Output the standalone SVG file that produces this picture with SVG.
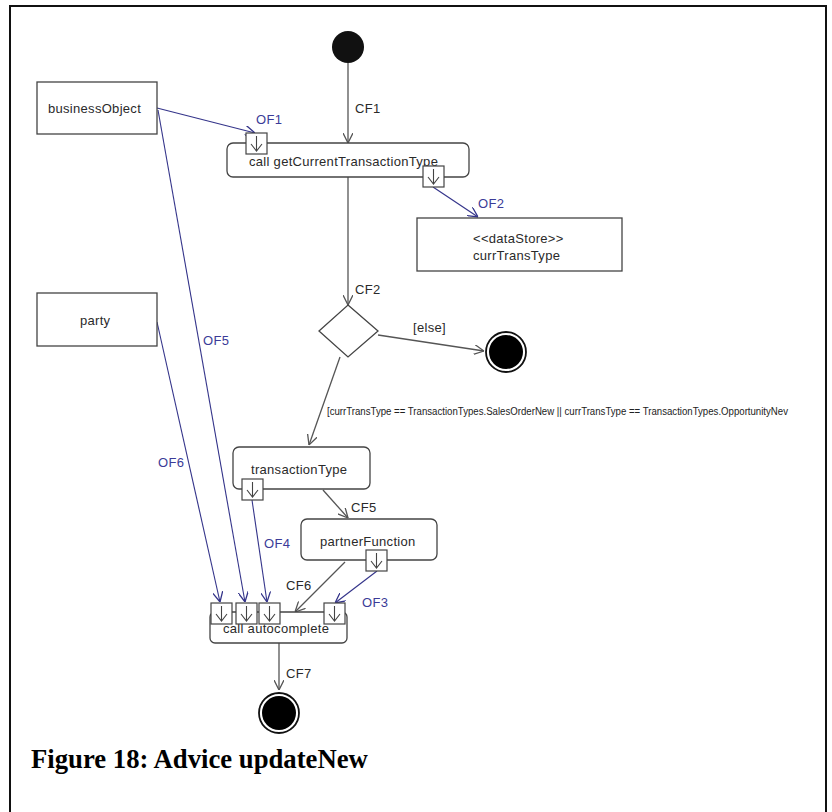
<svg xmlns="http://www.w3.org/2000/svg" width="832" height="812" viewBox="0 0 832 812">
  <defs>
    <style>
      .lbl { font-family: "Liberation Sans", Arial, sans-serif; font-size: 13px; letter-spacing: 0.3px; fill: #2a2a2a; }
      .of { fill: #3b3b98; }
      .guard { font-family: "Liberation Sans", Arial, sans-serif; font-size: 10px; fill: #222; }
      .box { fill: #fff; stroke: #444; stroke-width: 1.3; }
      .cf { stroke: #555; stroke-width: 1.3; fill: none; marker-end: url(#arrCF); }
      .obj { stroke: #34348a; stroke-width: 1.1; fill: none; marker-end: url(#arrOF); }
      .pin { fill: #fff; stroke: #444; stroke-width: 1.2; }
      .pinarrow { stroke: #444; stroke-width: 1.1; fill: none; }
      .caption { font-family: "Liberation Serif", "Times New Roman", serif; font-size: 26.7px; font-weight: bold; fill: #000; }
    </style>
    <marker id="arrCF" viewBox="0 0 10 10" refX="10" refY="5" markerWidth="10" markerHeight="10" markerUnits="userSpaceOnUse" orient="auto">
      <path d="M0,0 L10,5 L0,10" fill="none" stroke="#555" stroke-width="1.3"/>
    </marker>
    <marker id="arrOF" viewBox="0 0 10 10" refX="10" refY="5" markerWidth="10" markerHeight="10" markerUnits="userSpaceOnUse" orient="auto">
      <path d="M0,0 L10,5 L0,10" fill="none" stroke="#34348a" stroke-width="1.3"/>
    </marker>
    <!-- input/output pin: small square with a downward arrow -->
    <g id="pinShape">
      <rect class="pin" x="0" y="0" width="21" height="21"/>
      <path class="pinarrow" d="M10.5,3 V18 M5,11 L10.5,18 L16,11"/>
    </g>
  </defs>

  <rect width="832" height="812" fill="#fff"/>
  <!-- page frame -->
  <rect x="10" y="6" width="816" height="830" fill="none" stroke="#111" stroke-width="2"/>

  <!-- connectors -->
  <g id="connectors">
    <line class="cf" x1="348" y1="63" x2="348" y2="143"/>
    <line class="cf" x1="348" y1="177" x2="348" y2="305"/>
    <line class="cf" x1="378" y1="335" x2="484" y2="351"/>
    <line class="cf" x1="340" y1="357" x2="309" y2="445"/>
    <line class="cf" x1="323" y1="490" x2="348" y2="518"/>
    <line class="cf" x1="345" y1="562" x2="295" y2="612"/>
    <line class="cf" x1="279" y1="643" x2="279" y2="690"/>

    <line class="obj" x1="157" y1="108" x2="255" y2="133"/>
    <line class="obj" x1="433" y1="187" x2="478" y2="217"/>
    <line class="obj" x1="377" y1="571" x2="335" y2="603"/>
    <line class="obj" x1="252" y1="500" x2="267" y2="602"/>
    <line class="obj" x1="158" y1="110" x2="245" y2="602"/>
    <line class="obj" x1="157" y1="322" x2="220" y2="602"/>

    <text class="lbl" x="355" y="113">CF1</text>
    <text class="lbl" x="355" y="294">CF2</text>
    <text class="lbl" x="413" y="332">[else]</text>
    <text class="lbl" x="351" y="512">CF5</text>
    <text class="lbl" x="286" y="590">CF6</text>
    <text class="lbl" x="286" y="678">CF7</text>
    <text class="lbl of" x="256" y="124">OF1</text>
    <text class="lbl of" x="478" y="208">OF2</text>
    <text class="lbl of" x="362" y="607">OF3</text>
    <text class="lbl of" x="264" y="548">OF4</text>
    <text class="lbl of" x="203" y="345">OF5</text>
    <text class="lbl of" x="158" y="467">OF6</text>
    <text class="guard" x="327" y="415" textLength="461" lengthAdjust="spacingAndGlyphs">[currTransType == TransactionTypes.SalesOrderNew || currTransType == TransactionTypes.OpportunityNev</text>
  </g>

  <g id="start">
    <circle cx="348" cy="47" r="16" fill="#111"/>
  </g>

  <g id="businessObject">
    <rect class="box" x="37" y="82" width="120" height="52"/>
    <text class="lbl" x="48" y="113">businessObject</text>
  </g>

  <g id="party">
    <rect class="box" x="37" y="293" width="120" height="53"/>
    <text class="lbl" x="80" y="325">party</text>
  </g>

  <g id="getCurrentTransactionType">
    <rect class="box" x="227" y="143" width="242" height="34" rx="6"/>
    <text class="lbl" x="249" y="166">call getCurrentTransactionType</text>
    <use href="#pinShape" x="246" y="133"/>
    <use href="#pinShape" x="423" y="166"/>
  </g>

  <g id="dataStore">
    <rect class="box" x="417" y="218" width="205" height="53"/>
    <text class="lbl" x="473" y="243">&lt;&lt;dataStore&gt;&gt;</text>
    <text class="lbl" x="473" y="260">currTransType</text>
  </g>

  <g id="decision">
    <polygon class="box" points="348,305 378,331 348,357 319,331"/>
  </g>

  <g id="finalElse">
    <circle cx="506" cy="352" r="20" fill="#fff" stroke="#111" stroke-width="1.8"/>
    <circle cx="506" cy="352" r="17" fill="#000"/>
  </g>

  <g id="transactionType">
    <rect class="box" x="233" y="447" width="137" height="42" rx="6"/>
    <text class="lbl" x="251" y="474">transactionType</text>
    <use href="#pinShape" x="242" y="479"/>
  </g>

  <g id="partnerFunction">
    <rect class="box" x="301" y="519" width="136" height="41" rx="6"/>
    <text class="lbl" x="320" y="546">partnerFunction</text>
    <use href="#pinShape" x="366" y="550"/>
  </g>

  <g id="autocomplete">
    <rect class="box" x="210" y="612" width="137" height="31" rx="5"/>
    <text class="lbl" x="223" y="633">call autocomplete</text>
    <use href="#pinShape" x="211" y="603"/>
    <use href="#pinShape" x="236" y="603"/>
    <use href="#pinShape" x="259" y="603"/>
    <use href="#pinShape" x="324" y="603"/>
  </g>

  <g id="finalEnd">
    <circle cx="279" cy="713" r="20" fill="#fff" stroke="#111" stroke-width="1.8"/>
    <circle cx="279" cy="713" r="17" fill="#000"/>
  </g>

  <text class="caption" x="31" y="768">Figure 18: Advice updateNew</text>
</svg>
